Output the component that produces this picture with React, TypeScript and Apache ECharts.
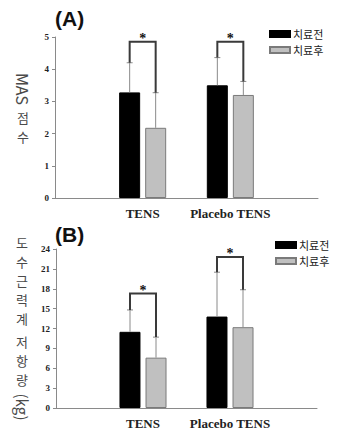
import React, { useEffect, useRef } from "react";
import * as echarts from "echarts";

const categories = ["", "TENS", "Placebo TENS", ""];
const seriesNames = ["치료전", "치료후"];

// Panel A: MAS score
const masPre = [3.28, 3.5];
const masPreSd = [0.92, 0.86];
const masPost = [2.18, 3.2];
const masPostSd = [1.09, 0.42];
const masBracket = [4.85, 4.85];
const masTicks = { min: 0, max: 5, interval: 1 };

// Panel B: dynamometer resistance (kg)
const kgPre = [11.5, 13.8];
const kgPreSd = [3.3, 6.7];
const kgPost = [7.6, 12.2];
const kgPostSd = [3.1, 5.65];
const kgBracket = [17.3, 22.8];
const kgTicks = { min: 0, max: 24, interval: 3 };

const SHIFT = 13;
const KFONT = "'Noto Sans CJK KR', 'Noto Sans', sans-serif";

function padded(arr: number[]) {
  return ["-", ...arr, "-"];
}

function errorRender(params: any, api: any) {
  const idx = api.value(0);
  const v = api.value(1);
  const sd = api.value(2);
  const sign = api.value(3);
  const base = api.coord([idx, v]);
  const top = api.coord([idx, v + sd]);
  const x = base[0] + sign * SHIFT;
  const style = { stroke: "#8a8a8a", lineWidth: 1 };
  return {
    type: "group",
    children: [
      { type: "line", shape: { x1: x, y1: base[1], x2: x, y2: top[1] }, style },
      { type: "line", shape: { x1: x - 3, y1: top[1], x2: x + 3, y2: top[1] }, style },
    ],
  };
}

function bracketRender(params: any, api: any) {
  const idx = api.value(0);
  const preTop = api.coord([idx, api.value(1)]);
  const postTop = api.coord([idx, api.value(2)]);
  const bTop = api.coord([idx, api.value(3)]);
  const xl = preTop[0] - SHIFT;
  const xr = preTop[0] + SHIFT;
  return {
    type: "group",
    children: [
      {
        type: "polyline",
        shape: { points: [[xl, preTop[1]], [xl, bTop[1]], [xr, bTop[1]], [xr, postTop[1]]] },
        style: { stroke: "#3a3a3a", lineWidth: 2, fill: null },
      },
      {
        type: "text",
        x: preTop[0],
        y: bTop[1] + 4,
        style: {
          text: "*",
          fill: "#111",
          font: "bold 14px 'Liberation Serif', serif",
          align: "center",
          verticalAlign: "bottom",
        },
      },
    ],
  };
}

// Hangul stacked upright, one text element per syllable
function uprightChars(text: string, x: number, y: number, step: number, size: number) {
  return text.split("").map((ch, i) => ({
    type: "text",
    x,
    y: y + i * step,
    style: {
      text: ch,
      font: `${size}px ${KFONT}`,
      fill: "#4a4a4a",
      align: "center",
      verticalAlign: "top",
    },
  }));
}

function rotatedText(text: string, x: number, y: number, size: number) {
  return {
    type: "text",
    x,
    y,
    rotation: -Math.PI / 2,
    style: {
      text,
      font: `${size}px ${KFONT}`,
      fill: "#4a4a4a",
      align: "center",
      verticalAlign: "middle",
    },
  };
}

export default function App() {
  const ref = useRef<HTMLDivElement>(null);
  useEffect(() => {
    if (!ref.current) return;
    const chart = echarts.init(ref.current, undefined, { renderer: "svg" });

    const axisLine = { show: true, lineStyle: { color: "#8a8a8a", width: 1 } };
    const tickLabel = {
      fontFamily: "'Liberation Serif', serif",
      fontWeight: "bold",
      fontSize: 9,
      color: "#222",
      margin: 6,
    };
    const xAxisCommon = {
      type: "category",
      data: categories,
      boundaryGap: false,
      axisLine,
      axisTick: { show: false },
      axisLabel: {
        fontFamily: "'Liberation Serif', serif",
        fontWeight: "bold",
        fontSize: 13,
        color: "#222",
        margin: 9,
        interval: 0,
      },
      splitLine: { show: false },
    };
    const legendCommon = {
      orient: "vertical",
      icon: "rect",
      itemWidth: 20,
      itemHeight: 6,
      itemGap: 0,
      padding: 0,
      textStyle: {
        fontFamily: KFONT,
        fontSize: 11,
        lineHeight: 16,
        color: "#222",
        padding: [0, 0, 0, -2],
      },
      data: seriesNames,
    };

    const pre = { color: "#000", borderColor: "#000", borderWidth: 1 };
    const post = { color: "#c0c0c0", borderColor: "#7a7a7a", borderWidth: 1 };

    const makeErr = (pv: number[], ps: number[], qv: number[], qs: number[]) => [
      ...pv.map((v, i) => [i + 1, v, ps[i], -1]),
      ...qv.map((v, i) => [i + 1, v, qs[i], 1]),
    ];
    const makeBracket = (pv: number[], ps: number[], qv: number[], qs: number[], b: number[]) =>
      pv.map((v, i) => [i + 1, v + ps[i], qv[i] + qs[i], b[i]]);

    chart.setOption({
      animation: false,
      backgroundColor: "#fff",
      graphic: [
        {
          type: "text",
          left: 55,
          top: 8,
          style: { text: "(A)", font: "bold 21px 'Liberation Sans', Arial, sans-serif", fill: "#111" },
        },
        {
          type: "text",
          left: 55,
          top: 224,
          style: { text: "(B)", font: "bold 21px 'Liberation Sans', Arial, sans-serif", fill: "#111" },
        },
        // Y title A: "MAS 점수" (Latin rotated, Hangul upright)
        rotatedText("MAS", 23, 89, 16),
        ...uprightChars("점수", 23, 111, 19, 13),
        // Y title B: "도수근력계 저항량(kg)"
        ...uprightChars("도수근력계", 22, 236, 19, 13),
        ...uprightChars("저항량", 22, 335, 19, 13),
        rotatedText("(kg)", 22, 407, 15),
      ],
      legend: [
        { ...legendCommon, left: 269, top: 26 },
        { ...legendCommon, left: 275, top: 237 },
      ],
      grid: [
        { left: 55, right: 22, top: 37, bottom: 232 },
        { left: 56, right: 23, top: 249, bottom: 19 },
      ],
      xAxis: [
        { ...xAxisCommon, gridIndex: 0 },
        { ...xAxisCommon, gridIndex: 1 },
      ],
      yAxis: [
        {
          type: "value",
          gridIndex: 0,
          ...masTicks,
          axisLine,
          axisTick: { show: true, length: 3, lineStyle: { color: "#8a8a8a" } },
          axisLabel: tickLabel,
          splitLine: { show: false },
        },
        {
          type: "value",
          gridIndex: 1,
          ...kgTicks,
          axisLine,
          axisTick: { show: true, length: 3, lineStyle: { color: "#8a8a8a" } },
          axisLabel: tickLabel,
          splitLine: { show: false },
        },
      ],
      series: [
        { type: "bar", name: seriesNames[0], xAxisIndex: 0, yAxisIndex: 0, data: padded(masPre), barWidth: 21, barGap: "24%", itemStyle: pre },
        { type: "bar", name: seriesNames[1], xAxisIndex: 0, yAxisIndex: 0, data: padded(masPost), barWidth: 21, barGap: "24%", itemStyle: post },
        { type: "bar", name: seriesNames[0], xAxisIndex: 1, yAxisIndex: 1, data: padded(kgPre), barWidth: 21, barGap: "24%", itemStyle: pre },
        { type: "bar", name: seriesNames[1], xAxisIndex: 1, yAxisIndex: 1, data: padded(kgPost), barWidth: 21, barGap: "24%", itemStyle: post },
        { type: "custom", xAxisIndex: 0, yAxisIndex: 0, z: 5, renderItem: errorRender, data: makeErr(masPre, masPreSd, masPost, masPostSd), silent: true },
        { type: "custom", xAxisIndex: 1, yAxisIndex: 1, z: 5, renderItem: errorRender, data: makeErr(kgPre, kgPreSd, kgPost, kgPostSd), silent: true },
        { type: "custom", xAxisIndex: 0, yAxisIndex: 0, z: 6, renderItem: bracketRender, data: makeBracket(masPre, masPreSd, masPost, masPostSd, masBracket), silent: true },
        { type: "custom", xAxisIndex: 1, yAxisIndex: 1, z: 6, renderItem: bracketRender, data: makeBracket(kgPre, kgPreSd, kgPost, kgPostSd, kgBracket), silent: true },
      ],
    });
    return () => chart.dispose();
  }, []);

  return (
    <div
      ref={ref}
      style={{ position: "fixed", left: 0, top: 0, width: 340, height: 430, background: "#fff" }}
    />
  );
}
